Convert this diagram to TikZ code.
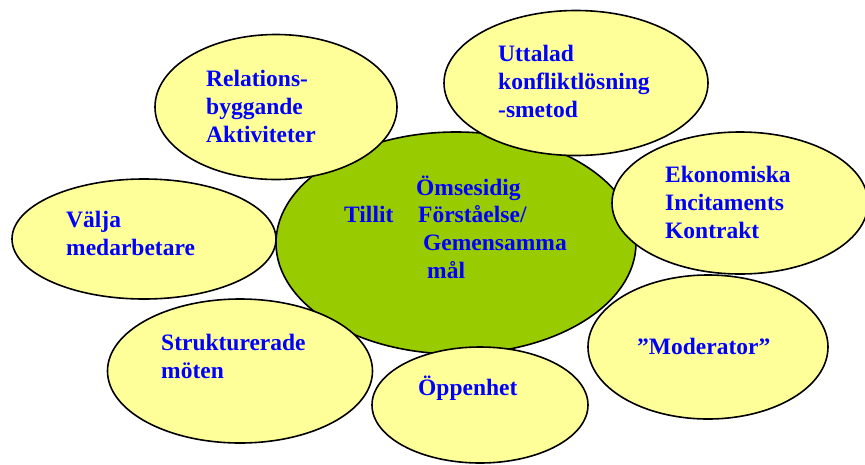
\documentclass[tikz,border=0pt]{standalone}
\usepackage{fontspec}
\setmainfont{Liberation Serif}
\usetikzlibrary{shapes.geometric}
\definecolor{petal}{HTML}{FFFF99}
\definecolor{core}{HTML}{99CC00}
\definecolor{ink}{HTML}{0000FF}
\begin{document}
\begin{tikzpicture}[x=1pt,y=-1pt,
  blob/.style={ellipse,draw=black,line width=1.6pt,inner sep=0pt,outer sep=0pt},
  leaf/.style={blob,fill=petal},
  label/.style={anchor=base west,inner sep=0pt,text=ink,align=left,
    font=\bfseries\fontsize{23.5}{27.6}\selectfont}]
\useasboundingbox (0,0) rectangle (865,464);
% central ellipse
\node[blob,fill=core,minimum width=360pt,minimum height=222pt] (kärna) at (456,243) {};
% surrounding ellipses
\node[leaf,minimum width=242pt,minimum height=145pt] (rel) at (276,107) {};
\node[leaf,minimum width=264pt,minimum height=145pt] (utt) at (576,83) {};
\node[leaf,minimum width=256pt,minimum height=142pt] (eko) at (740,203) {};
\node[leaf,minimum width=264pt,minimum height=120pt] (valja) at (144,239) {};
\node[leaf,minimum width=265pt,minimum height=144pt] (strukt) at (240,371) {};
\node[leaf,minimum width=216pt,minimum height=116pt] (oppen) at (480,405) {};
\node[leaf,minimum width=240pt,minimum height=144pt] (mod) at (708,347) {};
% texts (base anchor = baseline of the last line)
\node[label] (tRel) at (206,142) {Relations-\\byggande\\Aktiviteter};
\node[label] (tUtt) at (498,117) {Uttalad\\konfliktlösning\\-smetod};
\node[label] (tEko) at (665,238) {Ekonomiska\\Incitaments\\Kontrakt};
\node[label] (tValja) at (66,255) {Välja\\medarbetare};
\node[label] (tStrukt) at (161,378) {Strukturerade\\möten};
\node[label] (tOppen) at (418,395) {Öppenhet};
\node[label] (tMod) at (637,354) {”Moderator”};
\node[label] (tTillit) at (344,222) {Tillit};
\node[label] (tOms) at (416,195) {Ömsesidig};
\node[label] (tForst) at (418,222) {Förståelse/};
\node[label] (tGem) at (423,250) {Gemensamma};
\node[label] (tMal) at (427,278) {mål};
\end{tikzpicture}
\end{document}
